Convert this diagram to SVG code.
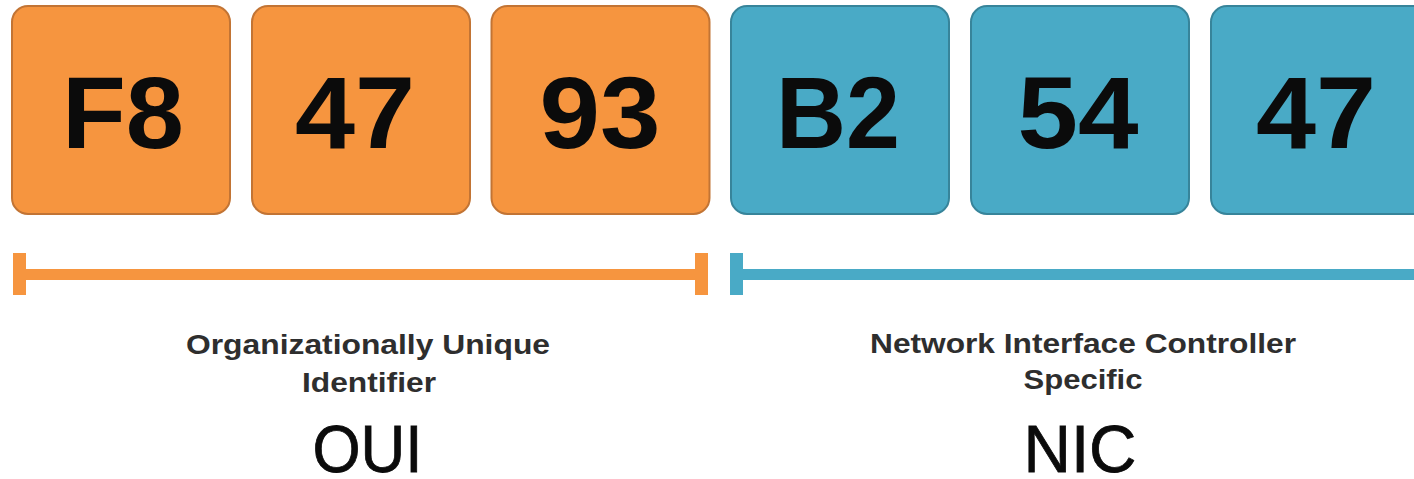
<svg xmlns="http://www.w3.org/2000/svg" width="1414" height="479" viewBox="0 0 1414 479">
  <style>
    .byte rect { stroke-width: 2; }
    .oui rect { fill: #F6953F; stroke: #C27434; }
    .nic rect { fill: #49AAC6; stroke: #37849A; }
    .hex { font-family: "Liberation Sans", Arial, sans-serif; font-weight: bold; font-size: 102px; fill: #0b0b0b; text-anchor: middle; }
    .desc { font-family: "Liberation Sans", Arial, sans-serif; font-weight: bold; font-size: 28px; fill: #2e2e2e; text-anchor: middle; }
    .abbr { font-family: "Liberation Sans", Arial, sans-serif; font-size: 66px; fill: #0b0b0b; text-anchor: middle; stroke: #0b0b0b; stroke-width: 0.8; }
    .span-oui { fill: #F6953F; }
    .span-nic { fill: #49AAC6; }
  </style>
  <rect width="1414" height="479" fill="#ffffff"/>

  <!-- MAC address bytes -->
  <g id="byte-f8" class="byte oui">
    <rect x="12" y="6" width="218" height="208" rx="16"/>
    <text class="hex" x="123" y="148" textLength="122" lengthAdjust="spacingAndGlyphs">F8</text>
  </g>
  <g id="byte-47a" class="byte oui">
    <rect x="252" y="6" width="218" height="208" rx="16"/>
    <text class="hex" x="355" y="148" textLength="120" lengthAdjust="spacingAndGlyphs">47</text>
  </g>
  <g id="byte-93" class="byte oui">
    <rect x="491.5" y="6" width="218" height="208" rx="16"/>
    <text class="hex" x="600" y="148" textLength="121" lengthAdjust="spacingAndGlyphs">93</text>
  </g>
  <g id="byte-b2" class="byte nic">
    <rect x="731" y="6" width="218" height="208" rx="16"/>
    <text class="hex" x="838" y="148" textLength="124" lengthAdjust="spacingAndGlyphs">B2</text>
  </g>
  <g id="byte-54" class="byte nic">
    <rect x="971" y="6" width="218" height="208" rx="16"/>
    <text class="hex" x="1078" y="148" textLength="121" lengthAdjust="spacingAndGlyphs">54</text>
  </g>
  <g id="byte-47b" class="byte nic">
    <rect x="1211" y="6" width="218" height="208" rx="16"/>
    <text class="hex" x="1316" y="148" textLength="120" lengthAdjust="spacingAndGlyphs">47</text>
  </g>

  <!-- span brackets -->
  <g id="connectors">
    <g id="span-oui" class="span-oui">
      <rect x="13" y="253" width="13" height="42"/>
      <rect x="13" y="269" width="694" height="11"/>
      <rect x="695" y="253" width="13" height="42"/>
    </g>
    <g id="span-nic" class="span-nic">
      <rect x="730" y="253" width="13" height="42"/>
      <rect x="730" y="269" width="690" height="11"/>
    </g>
  </g>

  <!-- labels -->
  <g id="label-oui">
    <text class="desc" x="368" y="354" textLength="364" lengthAdjust="spacingAndGlyphs">Organizationally Unique</text>
    <text class="desc" x="369" y="392" textLength="134" lengthAdjust="spacingAndGlyphs">Identifier</text>
    <text class="abbr" x="367.5" y="472" textLength="110" lengthAdjust="spacingAndGlyphs">OUI</text>
  </g>
  <g id="label-nic">
    <text class="desc" x="1083" y="353" textLength="426" lengthAdjust="spacingAndGlyphs">Network Interface Controller</text>
    <text class="desc" x="1083" y="389" textLength="119" lengthAdjust="spacingAndGlyphs">Specific</text>
    <text class="abbr" x="1080" y="472" textLength="113" lengthAdjust="spacingAndGlyphs">NIC</text>
  </g>
</svg>
